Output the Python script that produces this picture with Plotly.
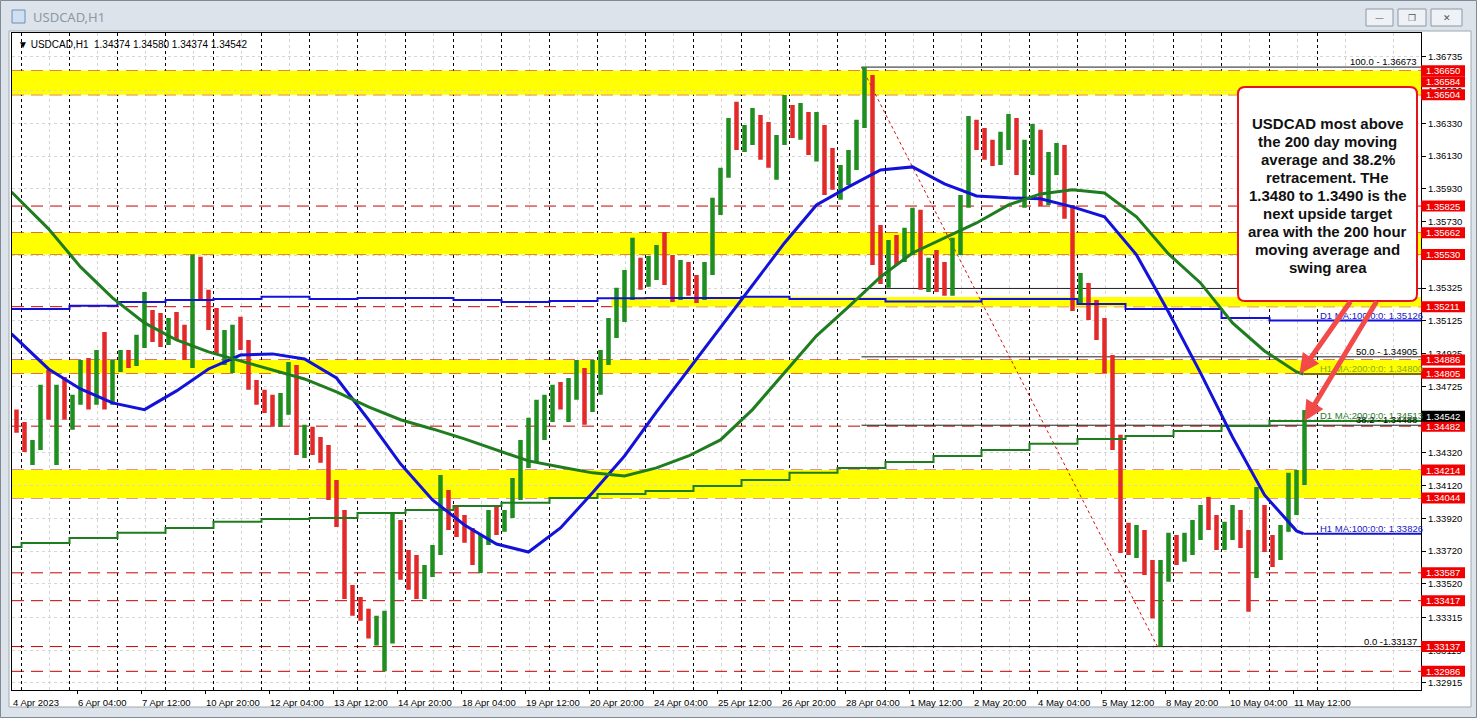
import plotly.graph_objects as go

# ------------------------------------------------------------------ data
symbol_title = "USDCAD,H1"
last_ohlc = ["1.34374", "1.34580", "1.34374", "1.34542"]

# trading days on the hourly axis (bar 0 = 5 Apr 00:00, no weekend bars)
trading_days = ["2023-04-04", "2023-04-05", "2023-04-06", "2023-04-07", "2023-04-10",
                "2023-04-11", "2023-04-12", "2023-04-13", "2023-04-14", "2023-04-17",
                "2023-04-18", "2023-04-19", "2023-04-20", "2023-04-21", "2023-04-24",
                "2023-04-25", "2023-04-26", "2023-04-27", "2023-04-28", "2023-05-01",
                "2023-05-02", "2023-05-03", "2023-05-04", "2023-05-05", "2023-05-08",
                "2023-05-09", "2023-05-10", "2023-05-11", "2023-05-12"]

# price path in 4-hour steps (oldest first)
opens = [1.34521, 1.34472, 1.34355, 1.34367, 1.34673, 1.34583, 1.34691, 1.34583, 1.34643, 1.34837,
         1.34673, 1.34794, 1.34704, 1.34837, 1.34886, 1.34874, 1.35008, 1.35100, 1.35069, 1.35039,
         1.35100, 1.35039, 1.34947, 1.35466, 1.35283, 1.35130, 1.34977, 1.35008, 1.35039, 1.34977,
         1.34734, 1.34655, 1.34630, 1.34521, 1.34643, 1.34825, 1.34398, 1.34447, 1.34367, 1.34337,
         1.34093, 1.33940, 1.33483, 1.33398, 1.33356, 1.33247, 1.33278, 1.33308, 1.33849, 1.33635,
         1.33605, 1.33483, 1.33574, 1.33727, 1.34032, 1.33940, 1.33879, 1.33818, 1.33696, 1.33788,
         1.33910, 1.33879, 1.33940, 1.34093, 1.34306, 1.34460, 1.34551, 1.34612, 1.34673, 1.34643,
         1.34704, 1.34764, 1.34583, 1.34794, 1.34886, 1.35100, 1.35252, 1.35314, 1.35435, 1.35374,
         1.35484, 1.35527, 1.35405, 1.35344, 1.35435, 1.35344, 1.35314, 1.35448, 1.35802, 1.36015,
         1.36259, 1.36229, 1.36259, 1.36351, 1.36167, 1.36137, 1.36229, 1.36381, 1.36320, 1.36363,
         1.36198, 1.36290, 1.36045, 1.35985, 1.36045, 1.36137, 1.36320, 1.36534, 1.35557, 1.35435,
         1.35557, 1.35527, 1.35618, 1.35771, 1.35374, 1.35466, 1.35435, 1.35314, 1.35588, 1.35832,
         1.36320, 1.36259, 1.36167, 1.36107, 1.36241, 1.36320, 1.36076, 1.36167, 1.36259, 1.35893,
         1.36107, 1.36167, 1.35802, 1.35314, 1.35344, 1.35191, 1.35069, 1.34886, 1.34398, 1.33849,
         1.33788, 1.33818, 1.33635, 1.33368, 1.33605, 1.33757, 1.33727, 1.33788, 1.33849, 1.33940,
         1.33910, 1.33788, 1.33849, 1.33910, 1.33788, 1.33574, 1.33971, 1.33788, 1.33696, 1.33849,
         1.34032, 1.34154]
highs = [1.34583, 1.34508, 1.34398, 1.34734, 1.34825, 1.34734, 1.34782, 1.34673, 1.34886, 1.34898,
         1.34947, 1.35057, 1.34886, 1.34947, 1.34947, 1.35039, 1.35301, 1.35191, 1.35173, 1.35142,
         1.35179, 1.35100, 1.35530, 1.35515, 1.35314, 1.35203, 1.35069, 1.35100, 1.35149, 1.35008,
         1.34764, 1.34704, 1.34673, 1.34685, 1.34874, 1.34855, 1.34490, 1.34478, 1.34416, 1.34367,
         1.34154, 1.33971, 1.33513, 1.33440, 1.33368, 1.33325, 1.33356, 1.33952, 1.33910, 1.33727,
         1.33696, 1.33635, 1.33757, 1.34184, 1.34093, 1.34001, 1.33940, 1.33861, 1.33818, 1.33971,
         1.34001, 1.33971, 1.34166, 1.34398, 1.34533, 1.34643, 1.34673, 1.34734, 1.34752, 1.34776,
         1.34886, 1.34837, 1.34886, 1.34947, 1.35142, 1.35326, 1.35435, 1.35631, 1.35509, 1.35521,
         1.35588, 1.35667, 1.35527, 1.35496, 1.35484, 1.35405, 1.35484, 1.35875, 1.36058, 1.36363,
         1.36461, 1.36320, 1.36424, 1.36381, 1.36338, 1.36259, 1.36503, 1.36442, 1.36454, 1.36399,
         1.36399, 1.36320, 1.36180, 1.36076, 1.36167, 1.36351, 1.36673, 1.36625, 1.35710, 1.35618,
         1.35649, 1.35692, 1.35814, 1.35802, 1.35509, 1.35557, 1.35484, 1.35631, 1.35893, 1.36375,
         1.36351, 1.36302, 1.36229, 1.36278, 1.36387, 1.36363, 1.36229, 1.36326, 1.36290, 1.36155,
         1.36210, 1.36198, 1.35832, 1.35417, 1.35356, 1.35252, 1.35142, 1.34916, 1.34429, 1.33892,
         1.33879, 1.33849, 1.33666, 1.33666, 1.33831, 1.33818, 1.33831, 1.33910, 1.34001, 1.34050,
         1.33940, 1.33898, 1.34001, 1.33971, 1.33849, 1.34111, 1.34001, 1.33818, 1.33879, 1.34197,
         1.34215, 1.34580]
lows = [1.34441, 1.34325, 1.34245, 1.34337, 1.34521, 1.34245, 1.34521, 1.34460, 1.34612, 1.34583,
        1.34612, 1.34583, 1.34612, 1.34813, 1.34837, 1.34849, 1.34959, 1.34996, 1.34965, 1.34977,
        1.35008, 1.34886, 1.34837, 1.35252, 1.35069, 1.34929, 1.34855, 1.34807, 1.34947, 1.34704,
        1.34612, 1.34563, 1.34478, 1.34478, 1.34551, 1.34306, 1.34288, 1.34306, 1.34258, 1.34032,
        1.33867, 1.33428, 1.33325, 1.33295, 1.33186, 1.33144, 1.32986, 1.33156, 1.33544, 1.33483,
        1.33428, 1.33428, 1.33562, 1.33696, 1.33849, 1.33806, 1.33770, 1.33635, 1.33586, 1.33757,
        1.33818, 1.33837, 1.33922, 1.34032, 1.34227, 1.34264, 1.34398, 1.34508, 1.34583, 1.34508,
        1.34643, 1.34490, 1.34569, 1.34673, 1.34855, 1.35020, 1.35118, 1.35252, 1.35314, 1.35332,
        1.35374, 1.35344, 1.35240, 1.35252, 1.35277, 1.35234, 1.35252, 1.35405, 1.35771, 1.35997,
        1.36167, 1.36155, 1.36198, 1.36107, 1.36058, 1.35985, 1.36198, 1.36241, 1.36229, 1.36137,
        1.36097, 1.35893, 1.35924, 1.35863, 1.35954, 1.36045, 1.36302, 1.35466, 1.35350, 1.35326,
        1.35466, 1.35484, 1.35527, 1.35314, 1.35301, 1.35301, 1.35277, 1.35277, 1.35527, 1.35814,
        1.36167, 1.36107, 1.36070, 1.36076, 1.36167, 1.36015, 1.35814, 1.36015, 1.35826, 1.35832,
        1.36015, 1.35747, 1.35185, 1.35222, 1.35130, 1.35008, 1.34807, 1.34337, 1.33708, 1.33696,
        1.33678, 1.33574, 1.33308, 1.33137, 1.33532, 1.33635, 1.33654, 1.33696, 1.33788, 1.33849,
        1.33727, 1.33727, 1.33788, 1.33739, 1.33349, 1.33556, 1.33714, 1.33623, 1.33666, 1.33837,
        1.33940, 1.34123]
closes = [1.34472, 1.34355, 1.34367, 1.34673, 1.34583, 1.34691, 1.34583, 1.34643, 1.34837, 1.34673,
          1.34794, 1.34704, 1.34837, 1.34886, 1.34874, 1.35008, 1.35100, 1.35069, 1.35039, 1.35100,
          1.35039, 1.34947, 1.35466, 1.35283, 1.35130, 1.34977, 1.35008, 1.35039, 1.34977, 1.34734,
          1.34655, 1.34630, 1.34521, 1.34643, 1.34825, 1.34398, 1.34447, 1.34367, 1.34337, 1.34093,
          1.33940, 1.33483, 1.33398, 1.33356, 1.33247, 1.33278, 1.33308, 1.33849, 1.33635, 1.33605,
          1.33483, 1.33574, 1.33727, 1.34032, 1.33940, 1.33879, 1.33818, 1.33696, 1.33788, 1.33910,
          1.33879, 1.33940, 1.34093, 1.34306, 1.34460, 1.34551, 1.34612, 1.34673, 1.34643, 1.34704,
          1.34764, 1.34583, 1.34794, 1.34886, 1.35100, 1.35252, 1.35314, 1.35435, 1.35374, 1.35484,
          1.35527, 1.35405, 1.35344, 1.35435, 1.35344, 1.35314, 1.35448, 1.35802, 1.36015, 1.36259,
          1.36229, 1.36259, 1.36351, 1.36167, 1.36137, 1.36229, 1.36381, 1.36320, 1.36363, 1.36198,
          1.36290, 1.36045, 1.35985, 1.36045, 1.36137, 1.36320, 1.36534, 1.35557, 1.35435, 1.35557,
          1.35527, 1.35618, 1.35771, 1.35374, 1.35466, 1.35435, 1.35314, 1.35588, 1.35832, 1.36320,
          1.36259, 1.36167, 1.36107, 1.36241, 1.36320, 1.36076, 1.36167, 1.36259, 1.35893, 1.36107,
          1.36167, 1.35802, 1.35314, 1.35344, 1.35191, 1.35069, 1.34886, 1.34398, 1.33849, 1.33788,
          1.33818, 1.33635, 1.33368, 1.33605, 1.33757, 1.33727, 1.33788, 1.33849, 1.33940, 1.33910,
          1.33788, 1.33849, 1.33910, 1.33788, 1.33574, 1.33971, 1.33788, 1.33696, 1.33849, 1.34032,
          1.34154, 1.34542]

# hourly moving averages, sampled every 16 bars
h1_ma100 = [1.35045, 1.34831, 1.34709, 1.34624, 1.34583, 1.34697, 1.34831, 1.34916, 1.34923, 1.34892,
            1.34776, 1.34521, 1.34252, 1.34032, 1.33879, 1.33763, 1.33714, 1.33861, 1.34075, 1.34300,
            1.34569, 1.34825, 1.35081, 1.35344, 1.35600, 1.35832, 1.35942, 1.36045, 1.36064, 1.35960,
            1.35887, 1.35875, 1.35869, 1.35820, 1.35759, 1.35527, 1.35179, 1.34807, 1.34416, 1.34062,
            1.33843, 1.33826]
h1_ma200 = [1.35911, 1.35686, 1.35454, 1.35265, 1.35112, 1.35008, 1.34935, 1.34880, 1.34825, 1.34770,
            1.34691, 1.34599, 1.34521, 1.34465, 1.34404, 1.34337, 1.34270, 1.34233, 1.34197, 1.34178,
            1.34227, 1.34300, 1.34398, 1.34583, 1.34807, 1.35033, 1.35210, 1.35393, 1.35539, 1.35631,
            1.35722, 1.35832, 1.35899, 1.35924, 1.35905, 1.35759, 1.35533, 1.35356, 1.35112, 1.34941,
            1.34813, 1.34800]
# daily moving averages, one value per trading day (4 Apr .. 11 May)
d1_ma100 = [1.35197, 1.35197, 1.35216, 1.35240, 1.35252, 1.35258, 1.35271, 1.35258, 1.35264, 1.35264,
            1.35252, 1.35240, 1.35246, 1.35262, 1.35264, 1.35264, 1.35271, 1.35258, 1.35258, 1.35242,
            1.35242, 1.35258, 1.35258, 1.35228, 1.35197, 1.35197, 1.35142, 1.35126]
d1_ma200 = [1.33745, 1.33769, 1.33800, 1.33831, 1.33861, 1.33898, 1.33916, 1.33922, 1.33952, 1.33971,
            1.33995, 1.34014, 1.34044, 1.34068, 1.34087, 1.34117, 1.34154, 1.34197, 1.34227, 1.34264,
            1.34300, 1.34337, 1.34374, 1.34404, 1.34422, 1.34453, 1.34483, 1.34513]

level_lines = [1.36650, 1.36584, 1.36504, 1.35825, 1.35662, 1.35530, 1.35211, 1.34886, 1.34805,
               1.34482, 1.34214, 1.34044, 1.33587, 1.33417, 1.33137, 1.32986]
yellow_zones = [(1.36504, 1.36650), (1.35530, 1.35662), (1.35211, 1.35270),
                (1.34805, 1.34886), (1.34044, 1.34214)]
zone_start = [None, None, ("2023-04-21", 7), None, None]

fib_high, fib_low = 1.36673, 1.33137
fib_high_time, fib_low_time = ("2023-04-28", 12), ("2023-05-08", 16)
fib_levels = [0.0, 38.2, 50.0, 61.8, 100.0]
fib_labelled = [100.0, 50.0, 38.2, 0.0]

price_ticks = [1.36735, 1.36530, 1.36330, 1.36130, 1.35930, 1.35730, 1.35525, 1.35325, 1.35125,
               1.34925, 1.34725, 1.34520, 1.34320, 1.34120, 1.33920, 1.33720, 1.33520, 1.33315,
               1.33115, 1.32915]

x_label_times = [("2023-04-04", 19), ("2023-04-06", 4), ("2023-04-07", 12), ("2023-04-10", 20),
                 ("2023-04-12", 4), ("2023-04-13", 12), ("2023-04-14", 20), ("2023-04-18", 4),
                 ("2023-04-19", 12), ("2023-04-20", 20), ("2023-04-24", 4), ("2023-04-25", 12),
                 ("2023-04-26", 20), ("2023-04-28", 4), ("2023-05-01", 12), ("2023-05-02", 20),
                 ("2023-05-04", 4), ("2023-05-05", 12), ("2023-05-08", 20), ("2023-05-10", 4),
                 ("2023-05-11", 12)]
x_label_text = ["4 Apr 2023", "6 Apr 04:00", "7 Apr 12:00", "10 Apr 20:00", "12 Apr 04:00",
                "13 Apr 12:00", "14 Apr 20:00", "18 Apr 04:00", "19 Apr 12:00", "20 Apr 20:00",
                "24 Apr 04:00", "25 Apr 12:00", "26 Apr 20:00", "28 Apr 04:00", "1 May 12:00",
                "2 May 20:00", "4 May 04:00", "5 May 12:00", "8 May 20:00", "10 May 04:00",
                "11 May 12:00"]

note_lines = ["USDCAD most above", "the 200 day moving", "average and 38.2%",
              "retracement. THe", "1.3480 to 1.3490 is the", "next upside target",
              "area with the 200 hour", "moving average and", "swing area"]

# ------------------------------------------------------------------ helpers
W, H = 1477, 718
L, R, T, B = 12, 1421, 33, 690
X_RANGE = [-4.75, 699.75]
Y_RANGE = [1.32872, 1.36881]


def px(xp):
    return (xp - L) / (R - L)


def py(yp):
    return (B - yp) / (B - T)


def bar(day, hour):
    return 24 * (trading_days.index(day) - 1) + hour


FONT = "Liberation Sans, Arial, sans-serif"
UP, DN = "#1f8f1f", "#e32a2a"
BLUE, GREEN = "#1212d8", "#1f7d1f"

first_bar = bar("2023-04-04", 19)
last_bar = bar("2023-05-11", 17)

fig = go.Figure()

# price bars (drawn as high-low bars like the terminal at this zoom)
xs = [4 * g - 2.5 for g in range(len(opens))]
fig.add_trace(go.Ohlc(
    x=xs, open=opens, high=highs, low=lows, close=closes,
    increasing=dict(line=dict(color=UP, width=4.5)),
    decreasing=dict(line=dict(color=DN, width=4.5)),
    tickwidth=0.1, hoverinfo="skip", showlegend=False))

# daily MAs (step lines)
day_x = [first_bar] + [24 * (d - 1) for d in range(1, len(d1_ma100))]
for vals, col in [(d1_ma100, BLUE), (d1_ma200, GREEN)]:
    fig.add_trace(go.Scatter(x=day_x + [X_RANGE[1]], y=vals + [vals[-1]], mode="lines",
                             line=dict(color=col, width=2, shape="hv"),
                             hoverinfo="skip", showlegend=False))

# hourly MAs
ma_x = [first_bar] + [16 * k - 2.5 for k in range(1, len(h1_ma100) - 1)] + [last_bar]
for vals, col, ext in [(h1_ma100, BLUE, BLUE), (h1_ma200, GREEN, "#7d6b12")]:
    fig.add_trace(go.Scatter(x=ma_x, y=vals, mode="lines", line=dict(color=col, width=3),
                             hoverinfo="skip", showlegend=False))
    fig.add_trace(go.Scatter(x=[last_bar, X_RANGE[1]], y=[vals[-1], vals[-1]], mode="lines",
                             line=dict(color=ext, width=2), hoverinfo="skip", showlegend=False))

shapes = []
annotations = []


def note(x, y, text, size=9.5, color="black", xanchor="center", yanchor="middle",
         xref="paper", yref="paper", **kw):
    annotations.append(dict(xref=xref, yref=yref, x=x, y=y, xanchor=xanchor, yanchor=yanchor,
                            showarrow=False, text=text,
                            font=dict(family=kw.pop("family", FONT), size=size, color=color),
                            **kw))


# window chrome
shapes.append(dict(type="rect", xref="paper", yref="paper", x0=px(0.5), x1=px(W - 0.5),
                   y0=py(0.5), y1=py(H - 0.5), line=dict(color="#7f8a96", width=1),
                   fillcolor="rgba(0,0,0,0)", layer="below"))
shapes.append(dict(type="rect", xref="paper", yref="paper", x0=px(9), x1=px(1471),
                   y0=py(31), y1=py(707), line=dict(color="#9ea8b3", width=1),
                   fillcolor="white", layer="below"))
shapes.append(dict(type="rect", xref="paper", yref="paper", x0=px(12), x1=px(25),
                   y0=py(10), y1=py(23), line=dict(color="#6d8fb5", width=1),
                   fillcolor="#cfe0f2", layer="above"))
note(px(31), py(17), symbol_title, size=13, color="#8e98a4", xanchor="left",
     family="Noto Sans, sans-serif")
for (bx0, bx1, sym) in [(1366, 1393, "\u2014"), (1398, 1426, "\u2750"), (1431, 1462, "\u2715")]:
    shapes.append(dict(type="rect", xref="paper", yref="paper", x0=px(bx0), x1=px(bx1),
                       y0=py(9), y1=py(26), line=dict(color="#8d98a5", width=1),
                       fillcolor="#eef1f5", layer="above"))
    note(px((bx0 + bx1) / 2), py(17.5), sym, size=9, color="#4d5560", family="DejaVu Sans")

# yellow zones
for (lo, hi), st in zip(yellow_zones, zone_start):
    x0 = X_RANGE[0] if st is None else bar(*st)
    shapes.append(dict(type="rect", xref="x", yref="y", x0=x0, x1=X_RANGE[1], y0=lo, y1=hi,
                       fillcolor="#ffff00", line=dict(width=0), layer="below"))

# light vertical grid
for k in range(0, 30):
    gx = 14 + 24 * k
    if X_RANGE[0] < gx < X_RANGE[1]:
        shapes.append(dict(type="line", xref="x", yref="paper", x0=gx, x1=gx, y0=0, y1=1,
                           line=dict(color="#d4d4d4", width=1, dash="dot"), layer="below"))

# dashed red horizontal levels
for lv in level_lines:
    shapes.append(dict(type="line", xref="paper", yref="y", x0=0, x1=1, y0=lv, y1=lv,
                       line=dict(color="#c80000", width=1, dash="12px,7px"), layer="between"))

# day separators
for d in range(1, len(trading_days)):
    sx = 24 * (d - 1)
    shapes.append(dict(type="line", xref="x", yref="paper", x0=sx, x1=sx, y0=0, y1=1,
                       line=dict(color="black", width=1, dash="3px,3px"), layer="between"))

# fibonacci
fx0 = bar(*fib_high_time)
for lvl in fib_levels:
    p = fib_low + lvl / 100 * (fib_high - fib_low)
    shapes.append(dict(type="line", xref="x", yref="y", x0=fx0, x1=X_RANGE[1], y0=p, y1=p,
                       line=dict(color="#202020", width=1), layer="between"))
    if lvl in fib_labelled:
        sep = " -" if lvl == 0 else " - "
        note(px(1419), p, f"{lvl:.1f}{sep}{p:.5f}", xanchor="right", yanchor="bottom",
             yref="y", yshift=-2)
shapes.append(dict(type="line", xref="x", yref="y", x0=fx0, x1=bar(*fib_low_time),
                   y0=fib_high, y1=fib_low, line=dict(color="#d01010", width=1, dash="dot"),
                   layer="between"))

# MA labels
ma_label_x = bar("2023-05-12", 0)
for name, val, col in [("D1 MA:100:0:0", d1_ma100[-1], "#1414c8"),
                       ("H1 MA:200:0:0", h1_ma200[-1], "#86ad1c"),
                       ("D1 MA:200:0:0", d1_ma200[-1], "#1f7d1f"),
                       ("H1 MA:100:0:0", h1_ma100[-1], "#1414c8")]:
    note(ma_label_x, val, f"{name}: {val:.5f}", color=col, xanchor="left", yanchor="bottom",
         xref="x", yref="y", yshift=-2)

# red price tags on the axis
for lv in level_lines:
    shapes.append(dict(type="rect", xref="paper", yref="y", x0=px(1421), x1=px(1465),
                       ysizemode="pixel", yanchor=lv, y0=-5.5, y1=5.5,
                       fillcolor="#f00000", line=dict(width=0), layer="above"))
    note(px(1443), lv, f"{lv:.5f}", color="white", yref="y")
shapes.append(dict(type="rect", xref="paper", yref="y", x0=px(1421), x1=px(1465),
                   ysizemode="pixel", yanchor=closes[-1], y0=-5.5, y1=5.5,
                   fillcolor="black", line=dict(width=0), layer="above"))
note(px(1443), closes[-1], f"{closes[-1]:.5f}", color="white", yref="y")

# chart header
note(px(16), py(44), "\u25BC " + symbol_title + "\u00a0\u00a0" + " ".join(last_ohlc),
     size=10, xanchor="left")

# time labels
tick_idx = [bar(d, h) for d, h in x_label_times]
for ti, tt in zip(tick_idx, x_label_text):
    note(max(ti, X_RANGE[0] + 0.5), py(702), tt, xanchor="left", xref="x", xshift=-2)

# comment box
bx0, bx1, by0, by1, rr = 1238, 1417, 87, 301, 7
path = (f"M {px(bx0 + rr)} {py(by0)} L {px(bx1 - rr)} {py(by0)} "
        f"Q {px(bx1)} {py(by0)} {px(bx1)} {py(by0 + rr)} L {px(bx1)} {py(by1 - rr)} "
        f"Q {px(bx1)} {py(by1)} {px(bx1 - rr)} {py(by1)} L {px(bx0 + rr)} {py(by1)} "
        f"Q {px(bx0)} {py(by1)} {px(bx0)} {py(by1 - rr)} L {px(bx0)} {py(by0 + rr)} "
        f"Q {px(bx0)} {py(by0)} {px(bx0 + rr)} {py(by0)} Z")
shapes.append(dict(type="path", xref="paper", yref="paper", path=path, fillcolor="white",
                   line=dict(color="#e8141c", width=2), layer="above"))
for k, line in enumerate(note_lines):
    note(px((bx0 + bx1) / 2), py(123 + 18 * k), f"<b>{line}</b>", size=15, color="#111111")

# arrows to the 200-hour MA and the 200-day MA
for tip_x, tip_y, tail_x in [(last_bar - 2, h1_ma200[-1], 665), (last_bar + 0.5, d1_ma200[-1], 678)]:
    annotations.append(dict(xref="x", yref="y", x=tip_x, y=tip_y, axref="x", ayref="y",
                            ax=tail_x, ay=1.35252, text="", showarrow=True, arrowhead=2,
                            arrowsize=0.8, arrowwidth=5, arrowcolor="#f24a48", standoff=0))

fig.update_layout(
    width=W, height=H, margin=dict(l=L, r=W - R, t=T, b=H - B, pad=0, autoexpand=False),
    paper_bgcolor="#dde3ea", plot_bgcolor="white", showlegend=False,
    xaxis=dict(range=X_RANGE, rangeslider=dict(visible=False), showgrid=False, zeroline=False,
               showline=True, linecolor="black", linewidth=1, mirror=True,
               tickvals=tick_idx, ticks="outside", ticklen=3, tickcolor="black",
               showticklabels=False, fixedrange=True, automargin=False),
    yaxis=dict(range=Y_RANGE, side="right", tickvals=price_ticks,
               ticktext=[f"{v:.5f}" for v in price_ticks], ticks="outside", ticklen=4,
               tickcolor="black", showgrid=True, gridcolor="#d6d6d6", griddash="dot",
               zeroline=False, showline=True, linecolor="black", linewidth=1, mirror=True,
               tickfont=dict(family=FONT, size=9.5, color="black"), fixedrange=True,
               automargin=False),
    shapes=shapes, annotations=annotations,
)

fig.write_html("out.html", config={"displayModeBar": False},
               post_script="document.body.style.margin='0px';"
                           "document.body.style.overflow='hidden';")
